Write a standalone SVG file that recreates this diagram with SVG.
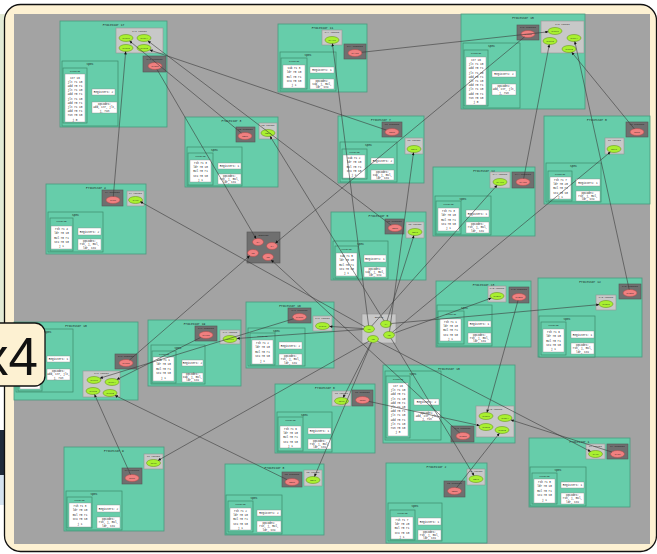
<svg xmlns="http://www.w3.org/2000/svg" width="657" height="554" viewBox="0 0 657 554">
<style>
.proc{fill:#66cdaa;stroke:#4a9a7e;stroke-width:0.8}
.spec{fill:#66cdaa;stroke:#3d8a6c;stroke-width:0.7}
.wb{fill:#fff;stroke:#8a8a8a;stroke-width:0.4}
.inb{fill:#c8c8c8;stroke:#959595;stroke-width:0.6}
.outb{fill:#6f6f6f;stroke:#555;stroke-width:0.6}
.gi{fill:#a8f030;stroke:#5c8a10;stroke-width:0.5}
.ro{fill:#f08080;stroke:#b04848;stroke-width:0.5}
text{font-family:"Liberation Mono","DejaVu Sans Mono",monospace;text-anchor:middle;fill:#1a1a1a}
.t{font-size:3px}
.s{font-size:2.4px}
.k{font-size:2.7px}
.e line{stroke:#3a3a3a;stroke-width:0.6;fill:none;marker-end:url(#ah)}
</style>
<defs>
<marker id="ah" viewBox="0 0 10 10" refX="10" refY="5" markerWidth="3.4" markerHeight="2.8" markerUnits="userSpaceOnUse" orient="auto"><path d="M0,0L10,5L0,10z" fill="#111"/></marker>
</defs>
<rect width="657" height="554" fill="#fff"/>
<rect x="0" y="14" width="6" height="310" fill="#e3ebd6"/>
<rect x="0" y="430" width="6" height="45" fill="#1f2b3b"/>
<rect x="0" y="475" width="6" height="30" fill="#d5e3f0"/>
<rect x="4.5" y="4.5" width="652" height="547" rx="16" fill="#fdf1d2" stroke="#111" stroke-width="1.3"/>
<rect x="14" y="14" width="636" height="530" fill="#a3a3a3"/>

<g id="p17">
<rect class="proc" x="60" y="21" width="107" height="106"/><text class="t" x="113.5" y="25.5">Processor 17</text>
<rect class="inb" x="116" y="28" width="47" height="25"/><text class="s" x="139.5" y="31.5">p17 inputs</text>
<ellipse class="gi" cx="126" cy="38" rx="7" ry="3.5"/><text class="s" x="126" y="38.9">p17i0</text>
<ellipse class="gi" cx="144" cy="38" rx="7" ry="3.5"/><text class="s" x="144" y="38.9">p17i1</text>
<ellipse class="gi" cx="126" cy="48" rx="7" ry="3.5"/><text class="s" x="126" y="48.9">p17i2</text>
<ellipse class="gi" cx="144" cy="48" rx="7" ry="3.5"/><text class="s" x="144" y="48.9">p17i3</text>
<rect class="outb" x="143" y="56" width="23" height="16"/><text class="s" x="154.5" y="59.5">p17 outputs</text>
<ellipse class="ro" cx="155" cy="66" rx="7" ry="3.5"/><text class="s" x="155" y="66.9">p17o0</text>
<rect class="spec" x="62" y="61" width="56" height="65"/><text class="t" x="90" y="64.5">Spec</text>
<rect class="spec" x="63" y="68" width="24" height="55"/><text class="s" x="75" y="71.5">Program</text>
<rect class="wb" x="65" y="74" width="20" height="48"/>
<text class="k" x="75" y="78.5"><tspan x="75">ctr 16</tspan><tspan x="75" dy="4.2">jlt r1 10</tspan><tspan x="75" dy="4.2">add r0 r1</tspan><tspan x="75" dy="4.2">jlt r1 10</tspan><tspan x="75" dy="4.2">add r0 r1</tspan><tspan x="75" dy="4.2">jlt r1 10</tspan><tspan x="75" dy="4.2">add r0 r1</tspan><tspan x="75" dy="4.2">jlt r1 10</tspan><tspan x="75" dy="4.2">add r0 r1</tspan><tspan x="75" dy="4.2">run r0 s0</tspan><tspan x="75" dy="4.2">j 0</tspan></text>
<rect class="wb" x="92" y="89" width="23" height="6"/><text class="k" x="103.5" y="93">Registers: 2</text>
<rect class="wb" x="92" y="102" width="25" height="11"/><text class="k" x="104.5" y="105"><tspan x="104.5">Opcodes:</tspan><tspan x="104.5" dy="3.3">add, ctr, jlt,</tspan><tspan x="104.5" dy="3.3">j, run</tspan></text>
</g>

<g id="p11">
<rect class="proc" x="278" y="24" width="89" height="68"/><text class="t" x="322.5" y="28.5">Processor 11</text>
<rect class="inb" x="322" y="30" width="20" height="15"/><text class="s" x="332" y="33.3">p11 inputs</text>
<ellipse class="gi" cx="332" cy="40" rx="7" ry="3.5"/><text class="s" x="332" y="40.9">p11i0</text>
<rect class="outb" x="344" y="44" width="22" height="15"/><text class="s" x="355" y="47.3">p11 outputs</text>
<ellipse class="ro" cx="355" cy="53" rx="7" ry="3.5"/><text class="s" x="355" y="53.9">p11o0</text>
<rect class="spec" x="280" y="52" width="56" height="39"/><text class="t" x="308" y="55.5">Spec</text>
<rect class="spec" x="281" y="58" width="26" height="31"/><text class="s" x="294" y="61.5">Program</text>
<rect class="wb" x="283" y="65" width="22" height="23"/>
<text class="k" x="294" y="69"><tspan x="294">sub r1 3</tspan><tspan x="294" dy="4.3">ldr r0 10</tspan><tspan x="294" dy="4.3">mul r0 r1</tspan><tspan x="294" dy="4.3">stu r0 s0</tspan><tspan x="294" dy="4.3">j 1</tspan></text>
<rect class="wb" x="310" y="67" width="24" height="6"/><text class="k" x="322" y="71">Registers: 1</text>
<rect class="wb" x="310" y="79" width="24" height="10"/><text class="k" x="322" y="81.6"><tspan x="322">Opcodes:</tspan><tspan x="322" dy="3">sub, j, mul,</tspan><tspan x="322" dy="3">ldr, stu</tspan></text>
</g>

<g id="p15">
<rect class="proc" x="461" y="14" width="124" height="95"/><text class="t" x="523" y="18.5">Processor 15</text>
<rect class="outb" x="517" y="25" width="22" height="15"/><text class="s" x="528" y="28.3">p15 outputs</text>
<ellipse class="ro" cx="528" cy="34" rx="7" ry="3.5"/><text class="s" x="528" y="34.9">p15o0</text>
<rect class="inb" x="541" y="21" width="43" height="32"/><text class="s" x="562.5" y="24.5">p15 inputs</text>
<ellipse class="gi" cx="555" cy="31" rx="7" ry="3.5"/><text class="s" x="555" y="31.9">p15i0</text>
<ellipse class="gi" cx="574" cy="38" rx="7" ry="3.5"/><text class="s" x="574" y="38.9">p15i1</text>
<ellipse class="gi" cx="550" cy="41" rx="7" ry="3.5"/><text class="s" x="550" y="41.9">p15i2</text>
<ellipse class="gi" cx="569" cy="49" rx="7" ry="3.5"/><text class="s" x="569" y="49.9">p15i3</text>
<rect class="spec" x="463" y="43" width="57" height="65"/><text class="t" x="491.5" y="46.5">Spec</text>
<rect class="spec" x="464" y="50" width="24" height="56"/><text class="s" x="476" y="53.5">Program</text>
<rect class="wb" x="466" y="57" width="20" height="48"/>
<text class="k" x="476" y="61"><tspan x="476">ctr 16</tspan><tspan x="476" dy="4.2">jlt r1 10</tspan><tspan x="476" dy="4.2">add r0 r1</tspan><tspan x="476" dy="4.2">jlt r1 10</tspan><tspan x="476" dy="4.2">add r0 r1</tspan><tspan x="476" dy="4.2">jlt r1 10</tspan><tspan x="476" dy="4.2">add r0 r1</tspan><tspan x="476" dy="4.2">jlt r1 10</tspan><tspan x="476" dy="4.2">add r0 r1</tspan><tspan x="476" dy="4.2">run r0 s0</tspan><tspan x="476" dy="4.2">j 0</tspan></text>
<rect class="wb" x="492" y="71" width="24" height="6"/><text class="k" x="504" y="75">Registers: 2</text>
<rect class="wb" x="492" y="84" width="24" height="11"/><text class="k" x="504" y="87"><tspan x="504">Opcodes:</tspan><tspan x="504" dy="3.3">add, ctr, jlt,</tspan><tspan x="504" dy="3.3">j, run</tspan></text>
</g>

<g id="p0">
<rect class="proc" x="544" y="116" width="106" height="88"/><text class="t" x="597" y="120.5">Processor 0</text>
<rect class="outb" x="626" y="122" width="22" height="15"/><text class="s" x="637" y="125.3">p0 outputs</text>
<ellipse class="ro" cx="637" cy="132" rx="7" ry="3.5"/><text class="s" x="637" y="132.9">p0o0</text>
<rect class="inb" x="605" y="138" width="19" height="16"/><text class="s" x="614.5" y="141.3">p0 inputs</text>
<ellipse class="gi" cx="614" cy="149" rx="7" ry="3.5"/><text class="s" x="614" y="149.9">p0i0</text>
<rect class="spec" x="546" y="163" width="55" height="39"/><text class="t" x="573.5" y="166.5">Spec</text>
<rect class="spec" x="548" y="171" width="24" height="30"/><text class="s" x="560" y="174.5">Program</text>
<rect class="wb" x="550" y="177" width="21" height="22"/>
<text class="k" x="560.5" y="181"><tspan x="560.5">rsh r1 7</tspan><tspan x="560.5" dy="4.2">ldr r0 20</tspan><tspan x="560.5" dy="4.2">mul r0 r1</tspan><tspan x="560.5" dy="4.2">stu r0 s0</tspan><tspan x="560.5" dy="4.2">j 1</tspan></text>
<rect class="wb" x="576" y="179" width="24" height="7"/><text class="k" x="588" y="183.5">Registers: 1</text>
<rect class="wb" x="576" y="191" width="24" height="10"/><text class="k" x="588" y="193.6"><tspan x="588">Opcodes:</tspan><tspan x="588" dy="3">rsh, j, mul,</tspan><tspan x="588" dy="3">ldr, stu</tspan></text>
</g>

<g id="p14">
<rect class="proc" x="433" y="167" width="102" height="69"/><text class="t" x="484" y="171.5">Processor 14</text>
<rect class="inb" x="490" y="172" width="20" height="16"/><text class="s" x="500" y="175.3">p14 inputs</text>
<ellipse class="gi" cx="500" cy="182" rx="7" ry="3.5"/><text class="s" x="500" y="182.9">p14i0</text>
<rect class="outb" x="512" y="172" width="22" height="16"/><text class="s" x="523" y="175.3">p14 outputs</text>
<ellipse class="ro" cx="523" cy="182" rx="7" ry="3.5"/><text class="s" x="523" y="182.9">p14o0</text>
<rect class="spec" x="435" y="196" width="56" height="39"/><text class="t" x="463" y="199.5">Spec</text>
<rect class="spec" x="436" y="201" width="25" height="33"/><text class="s" x="448.5" y="204.5">Program</text>
<rect class="wb" x="438" y="208" width="21" height="23"/>
<text class="k" x="448.5" y="212"><tspan x="448.5">rsh r1 3</tspan><tspan x="448.5" dy="4.3">ldr r0 10</tspan><tspan x="448.5" dy="4.3">mul r0 r1</tspan><tspan x="448.5" dy="4.3">stu r0 s0</tspan><tspan x="448.5" dy="4.3">j 1</tspan></text>
<rect class="wb" x="466" y="210" width="23" height="7"/><text class="k" x="477.5" y="214.5">Registers: 1</text>
<rect class="wb" x="466" y="222" width="23" height="11"/><text class="k" x="477.5" y="225"><tspan x="477.5">Opcodes:</tspan><tspan x="477.5" dy="3.3">rsh, j, mul,</tspan><tspan x="477.5" dy="3.3">ldr, stu</tspan></text>
</g>

<g id="p7">
<rect class="proc" x="338" y="116" width="86" height="67"/><text class="t" x="381" y="120.5">Processor 7</text>
<rect class="outb" x="382" y="122" width="20" height="15"/><text class="s" x="392" y="125.3">p7 outputs</text>
<ellipse class="ro" cx="392" cy="132" rx="7" ry="3.5"/><text class="s" x="392" y="132.9">p7o0</text>
<rect class="inb" x="405" y="138" width="18" height="16"/><text class="s" x="414" y="141.3">p7 inputs</text>
<ellipse class="gi" cx="414" cy="149" rx="7" ry="3.5"/><text class="s" x="414" y="149.9">p7i0</text>
<rect class="spec" x="340" y="142" width="57" height="40"/><text class="t" x="368.5" y="145.5">Spec</text>
<rect class="spec" x="342" y="149" width="25" height="30"/><text class="s" x="354.5" y="152.5">Program</text>
<rect class="wb" x="343" y="155" width="22" height="23"/>
<text class="k" x="354" y="159"><tspan x="354">sub r1 2</tspan><tspan x="354" dy="4.3">ldr r0 10</tspan><tspan x="354" dy="4.3">mul r0 r1</tspan><tspan x="354" dy="4.3">stu r0 s0</tspan><tspan x="354" dy="4.3">j 1</tspan></text>
<rect class="wb" x="371" y="158" width="23" height="6"/><text class="k" x="382.5" y="162">Registers: 2</text>
<rect class="wb" x="371" y="170" width="23" height="10"/><text class="k" x="382.5" y="172.6"><tspan x="382.5">Opcodes:</tspan><tspan x="382.5" dy="3">sub, j, mul,</tspan><tspan x="382.5" dy="3">ldr, stu</tspan></text>
</g>

<g id="p3">
<rect class="proc" x="185" y="117" width="93" height="70"/><text class="t" x="231.5" y="121.5">Processor 3</text>
<rect class="outb" x="236" y="127" width="19" height="15"/><text class="s" x="245.5" y="130.3">p3 outputs</text>
<ellipse class="ro" cx="245" cy="136" rx="7" ry="3.5"/><text class="s" x="245" y="136.9">p3o0</text>
<rect class="inb" x="259" y="123" width="18" height="16"/><text class="s" x="268" y="126.3">p3 inputs</text>
<ellipse class="gi" cx="268" cy="133" rx="7" ry="3.5"/><text class="s" x="268" y="133.9">p3i0</text>
<rect class="spec" x="187" y="147" width="55" height="39"/><text class="t" x="214.5" y="150.5">Spec</text>
<rect class="spec" x="188" y="153" width="25" height="32"/><text class="s" x="200.5" y="156.5">Program</text>
<rect class="wb" x="190" y="160" width="21" height="22"/>
<text class="k" x="200.5" y="164"><tspan x="200.5">rsh r1 3</tspan><tspan x="200.5" dy="4.2">ldr r0 10</tspan><tspan x="200.5" dy="4.2">mul r0 r1</tspan><tspan x="200.5" dy="4.2">stu r0 s0</tspan><tspan x="200.5" dy="4.2">j 1</tspan></text>
<rect class="wb" x="218" y="163" width="23" height="6"/><text class="k" x="229.5" y="167">Registers: 1</text>
<rect class="wb" x="218" y="174" width="23" height="10"/><text class="k" x="229.5" y="176.6"><tspan x="229.5">Opcodes:</tspan><tspan x="229.5" dy="3">rsh, j, mul,</tspan><tspan x="229.5" dy="3">ldr, stu</tspan></text>
</g>

<g id="p4">
<rect class="proc" x="46" y="184" width="100" height="70"/><text class="t" x="96" y="188.5">Processor 4</text>
<rect class="outb" x="102" y="190" width="21" height="16"/><text class="s" x="112.5" y="193.3">p4 outputs</text>
<ellipse class="ro" cx="113" cy="200" rx="7" ry="3.5"/><text class="s" x="113" y="200.9">p4o0</text>
<rect class="inb" x="127" y="191" width="17" height="15"/><text class="s" x="135.5" y="194.3">p4 inputs</text>
<ellipse class="gi" cx="135.5" cy="200" rx="7" ry="3.5"/><text class="s" x="135.5" y="200.9">p4i0</text>
<rect class="spec" x="48" y="212" width="55" height="40"/><text class="t" x="75.5" y="215.5">Spec</text>
<rect class="spec" x="50" y="218" width="23" height="33"/><text class="s" x="61.5" y="221.5">Program</text>
<rect class="wb" x="51" y="226" width="21" height="23"/>
<text class="k" x="61.5" y="230"><tspan x="61.5">rsh r1 4</tspan><tspan x="61.5" dy="4.3">ldr r0 10</tspan><tspan x="61.5" dy="4.3">mul r0 r1</tspan><tspan x="61.5" dy="4.3">stu r0 s0</tspan><tspan x="61.5" dy="4.3">j 1</tspan></text>
<rect class="wb" x="78" y="228" width="23" height="7"/><text class="k" x="89.5" y="232.5">Registers: 2</text>
<rect class="wb" x="78" y="239" width="23" height="11"/><text class="k" x="89.5" y="242"><tspan x="89.5">Opcodes:</tspan><tspan x="89.5" dy="3.3">rsh, j, mul,</tspan><tspan x="89.5" dy="3.3">ldr, stu</tspan></text>
</g>

<g id="outputs">
<rect class="outb" x="247" y="232" width="33" height="31"/><text class="s" x="263.5" y="235.8">Outputs</text>
<ellipse class="ro" cx="258" cy="242" rx="5.5" ry="3.5"/><text class="s" x="258" y="242.9">o1</text>
<ellipse class="ro" cx="272" cy="246" rx="5.5" ry="3.5"/><text class="s" x="272" y="246.9">o4</text>
<ellipse class="ro" cx="253" cy="253" rx="5.5" ry="3.5"/><text class="s" x="253" y="253.9">o2</text>
<ellipse class="ro" cx="268" cy="257" rx="5.5" ry="3.5"/><text class="s" x="268" y="257.9">o3</text>
</g>

<g id="p5">
<rect class="proc" x="331" y="212" width="95" height="68"/><text class="t" x="378.5" y="216.5">Processor 5</text>
<rect class="outb" x="385" y="219" width="19" height="15"/><text class="s" x="394.5" y="222.3">p5 outputs</text>
<ellipse class="ro" cx="395" cy="228" rx="7" ry="3.5"/><text class="s" x="395" y="228.9">p5o0</text>
<rect class="inb" x="406" y="222" width="18" height="16"/><text class="s" x="415" y="225.3">p5 inputs</text>
<ellipse class="gi" cx="415" cy="232" rx="7" ry="3.5"/><text class="s" x="415" y="232.9">p5i0</text>
<rect class="spec" x="333" y="241" width="55" height="38"/><text class="t" x="360.5" y="244.5">Spec</text>
<rect class="spec" x="335" y="246" width="23" height="32"/><text class="s" x="346.5" y="249.5">Program</text>
<rect class="wb" x="336" y="253" width="21" height="23"/>
<text class="k" x="346.5" y="257"><tspan x="346.5">sub r1 5</tspan><tspan x="346.5" dy="4.3">ldr r0 10</tspan><tspan x="346.5" dy="4.3">mul r0 r1</tspan><tspan x="346.5" dy="4.3">stu r0 s0</tspan><tspan x="346.5" dy="4.3">j 1</tspan></text>
<rect class="wb" x="364" y="255" width="22" height="7"/><text class="k" x="375" y="259.5">Registers: 1</text>
<rect class="wb" x="364" y="267" width="22" height="10"/><text class="k" x="375" y="269.6"><tspan x="375">Opcodes:</tspan><tspan x="375" dy="3">sub, j, mul,</tspan><tspan x="375" dy="3">ldr, stu</tspan></text>
</g>

<g id="p13">
<rect class="proc" x="436" y="281" width="95" height="66"/><text class="t" x="483.5" y="285.5">Processor 13</text>
<rect class="inb" x="488" y="286" width="18" height="16"/><text class="s" x="497" y="289.3">p13 inputs</text>
<ellipse class="gi" cx="497" cy="296" rx="7" ry="3.5"/><text class="s" x="497" y="296.9">p13i0</text>
<rect class="outb" x="509" y="287" width="20" height="16"/><text class="s" x="519" y="290.3">p13 outputs</text>
<ellipse class="ro" cx="519" cy="297" rx="7" ry="3.5"/><text class="s" x="519" y="297.9">p13o0</text>
<rect class="spec" x="437" y="305" width="55" height="41"/><text class="t" x="464.5" y="308.5">Spec</text>
<rect class="spec" x="438" y="311" width="26" height="33"/><text class="s" x="451" y="314.5">Program</text>
<rect class="wb" x="440" y="319" width="21" height="22"/>
<text class="k" x="450.5" y="323"><tspan x="450.5">rsh r1 1</tspan><tspan x="450.5" dy="4.2">ldr r0 10</tspan><tspan x="450.5" dy="4.2">mul r0 r1</tspan><tspan x="450.5" dy="4.2">stu r0 s0</tspan><tspan x="450.5" dy="4.2">j 1</tspan></text>
<rect class="wb" x="468" y="321" width="23" height="6"/><text class="k" x="479.5" y="325">Registers: 1</text>
<rect class="wb" x="468" y="333" width="23" height="10"/><text class="k" x="479.5" y="335.6"><tspan x="479.5">Opcodes:</tspan><tspan x="479.5" dy="3">rsh, j, mul,</tspan><tspan x="479.5" dy="3">ldr, stu</tspan></text>
</g>

<g id="p12">
<rect class="proc" x="538" y="278" width="104" height="79"/><text class="t" x="590" y="282.5">Processor 12</text>
<rect class="outb" x="619" y="284" width="22" height="15"/><text class="s" x="630" y="287.3">p12 outputs</text>
<ellipse class="ro" cx="630" cy="293" rx="7" ry="3.5"/><text class="s" x="630" y="293.9">p12o0</text>
<rect class="inb" x="596" y="295" width="20" height="15"/><text class="s" x="606" y="298.3">p12 inputs</text>
<ellipse class="gi" cx="606" cy="304" rx="7" ry="3.5"/><text class="s" x="606" y="304.9">p12i0</text>
<rect class="spec" x="539" y="316" width="56" height="41"/><text class="t" x="567" y="319.5">Spec</text>
<rect class="spec" x="541" y="322" width="25" height="33"/><text class="s" x="553.5" y="325.5">Program</text>
<rect class="wb" x="543" y="329" width="21" height="23"/>
<text class="k" x="553.5" y="333"><tspan x="553.5">rsh r1 6</tspan><tspan x="553.5" dy="4.3">ldr r0 10</tspan><tspan x="553.5" dy="4.3">mul r0 r1</tspan><tspan x="553.5" dy="4.3">stu r0 s0</tspan><tspan x="553.5" dy="4.3">j 1</tspan></text>
<rect class="wb" x="571" y="331" width="23" height="7"/><text class="k" x="582.5" y="335.5">Registers: 1</text>
<rect class="wb" x="571" y="343" width="23" height="11"/><text class="k" x="582.5" y="346"><tspan x="582.5">Opcodes:</tspan><tspan x="582.5" dy="3.3">rsh, j, mul,</tspan><tspan x="582.5" dy="3.3">ldr, stu</tspan></text>
</g>

<g id="p10">
<rect class="proc" x="14" y="322" width="124" height="78"/><text class="t" x="76" y="326.5">Processor 10</text>
<rect class="outb" x="115" y="354" width="22" height="15"/><text class="s" x="126" y="357.3">p10 outputs</text>
<ellipse class="ro" cx="126" cy="363" rx="7" ry="3.5"/><text class="s" x="126" y="363.9">p10o0</text>
<rect class="inb" x="83" y="371" width="37" height="26"/><text class="s" x="101.5" y="374.3">p10 inputs</text>
<ellipse class="gi" cx="94" cy="380" rx="7" ry="3.5"/><text class="s" x="94" y="380.9">p10i0</text>
<ellipse class="gi" cx="112" cy="382" rx="7" ry="3.5"/><text class="s" x="112" y="382.9">p10i1</text>
<ellipse class="gi" cx="93" cy="391" rx="7" ry="3.5"/><text class="s" x="93" y="391.9">p10i2</text>
<ellipse class="gi" cx="110" cy="393" rx="7" ry="3.5"/><text class="s" x="110" y="393.9">p10i3</text>
<rect class="spec" x="16" y="329" width="57" height="63"/><text class="t" x="48" y="332.5">Spec</text>
<rect class="spec" x="18" y="335" width="24" height="56"/>
<rect class="wb" x="20" y="342" width="20" height="47"/>
<rect class="wb" x="47" y="356" width="23" height="6"/><text class="k" x="58.5" y="360">Registers: 1</text>
<rect class="wb" x="47" y="369" width="23" height="11"/><text class="k" x="58.5" y="372"><tspan x="58.5">Opcodes:</tspan><tspan x="58.5" dy="3.3">add, ctr, jlt,</tspan><tspan x="58.5" dy="3.3">j, run</tspan></text>
</g>

<g id="p19">
<rect class="proc" x="148" y="320" width="93" height="66"/><text class="t" x="194.5" y="324.5">Processor 19</text>
<rect class="outb" x="195" y="326" width="22" height="15"/><text class="s" x="206" y="329.3">p19 outputs</text>
<ellipse class="ro" cx="206" cy="335" rx="7" ry="3.5"/><text class="s" x="206" y="335.9">p19o0</text>
<rect class="inb" x="220" y="330" width="20" height="14"/><text class="s" x="230" y="333.3">p19 inputs</text>
<ellipse class="gi" cx="230" cy="339" rx="7" ry="3.5"/><text class="s" x="230" y="339.9">p19i0</text>
<rect class="spec" x="151" y="345" width="54" height="39"/><text class="t" x="178" y="348.5">Spec</text>
<rect class="spec" x="152" y="351" width="24" height="32"/><text class="s" x="164" y="354.5">Program</text>
<rect class="wb" x="153" y="357" width="21" height="24"/>
<text class="k" x="163.5" y="361"><tspan x="163.5">sub r1 1</tspan><tspan x="163.5" dy="4.4">ldr r0 10</tspan><tspan x="163.5" dy="4.4">mul r0 r1</tspan><tspan x="163.5" dy="4.4">stu r0 s0</tspan><tspan x="163.5" dy="4.4">j 1</tspan></text>
<rect class="wb" x="182" y="360" width="21" height="6"/><text class="k" x="192.5" y="364">Registers: 2</text>
<rect class="wb" x="182" y="373" width="21" height="9"/><text class="k" x="192.5" y="375.4"><tspan x="192.5">Opcodes:</tspan><tspan x="192.5" dy="2.8">sub, j, mul,</tspan><tspan x="192.5" dy="2.8">ldr, stu</tspan></text>
</g>

<g id="p16">
<rect class="proc" x="246" y="302" width="88" height="66"/><text class="t" x="290" y="306.5">Processor 16</text>
<rect class="outb" x="288" y="308" width="23" height="15"/><text class="s" x="299.5" y="311.3">p16 outputs</text>
<ellipse class="ro" cx="299.5" cy="317" rx="7" ry="3.5"/><text class="s" x="299.5" y="317.9">p16o0</text>
<rect class="inb" x="313" y="316" width="19" height="15"/><text class="s" x="322.5" y="319.3">p16 inputs</text>
<ellipse class="gi" cx="322.5" cy="326" rx="7" ry="3.5"/><text class="s" x="322.5" y="326.9">p16i0</text>
<rect class="spec" x="248" y="328" width="57" height="38"/><text class="t" x="276.5" y="331.5">Spec</text>
<rect class="spec" x="250" y="333" width="25" height="32"/><text class="s" x="262.5" y="336.5">Program</text>
<rect class="wb" x="252" y="340" width="21" height="24"/>
<text class="k" x="262.5" y="344"><tspan x="262.5">rsh r1 2</tspan><tspan x="262.5" dy="4.4">ldr r0 10</tspan><tspan x="262.5" dy="4.4">mul r0 r1</tspan><tspan x="262.5" dy="4.4">stu r0 s0</tspan><tspan x="262.5" dy="4.4">j 1</tspan></text>
<rect class="wb" x="279" y="342" width="23" height="7"/><text class="k" x="290.5" y="346.5">Registers: 2</text>
<rect class="wb" x="279" y="354" width="23" height="11"/><text class="k" x="290.5" y="357"><tspan x="290.5">Opcodes:</tspan><tspan x="290.5" dy="3.3">rsh, j, mul,</tspan><tspan x="290.5" dy="3.3">ldr, stu</tspan></text>
</g>

<g id="inputs">
<rect class="inb" x="362" y="314" width="34" height="29"/><text class="s" x="379" y="317.6">Inputs</text>
<ellipse class="gi" cx="369" cy="329" rx="5.5" ry="3.5"/><text class="s" x="369" y="329.9">i0</text>
<ellipse class="gi" cx="386" cy="324" rx="5.5" ry="3.5"/><text class="s" x="386" y="324.9">i1</text>
<ellipse class="gi" cx="389" cy="335" rx="5.5" ry="3.5"/><text class="s" x="389" y="335.9">i2</text>
<ellipse class="gi" cx="373" cy="339" rx="5.5" ry="3.5"/><text class="s" x="373" y="339.9">i3</text>
</g>

<g id="p18">
<rect class="proc" x="383" y="365" width="132" height="78"/><text class="t" x="449" y="369.5">Processor 18</text>
<rect class="spec" x="385" y="371" width="56" height="69"/><text class="t" x="413" y="374.5">Spec</text>
<rect class="spec" x="386" y="376" width="24" height="62"/><text class="s" x="398" y="379.5">Program</text>
<rect class="wb" x="388" y="383" width="20" height="53"/>
<text class="k" x="398" y="387"><tspan x="398">ctr 16</tspan><tspan x="398" dy="4.2">jlt r1 10</tspan><tspan x="398" dy="4.2">add r0 r1</tspan><tspan x="398" dy="4.2">jlt r1 10</tspan><tspan x="398" dy="4.2">add r0 r1</tspan><tspan x="398" dy="4.2">jlt r1 10</tspan><tspan x="398" dy="4.2">add r0 r1</tspan><tspan x="398" dy="4.2">jlt r1 10</tspan><tspan x="398" dy="4.2">add r0 r1</tspan><tspan x="398" dy="4.2">jlt r1 10</tspan><tspan x="398" dy="4.2">run r0 s0</tspan><tspan x="398" dy="4.2">j 0</tspan></text>
<rect class="wb" x="414" y="399" width="25" height="6"/><text class="k" x="426.5" y="403">Registers: 2</text>
<rect class="wb" x="414" y="411" width="26" height="10"/><text class="k" x="427" y="413.6"><tspan x="427">Opcodes:</tspan><tspan x="427" dy="3">add, ctr, jlt,</tspan><tspan x="427" dy="3">j, run</tspan></text>
<rect class="inb" x="476" y="406" width="38" height="31"/><text class="s" x="495" y="409.5">p18 inputs</text>
<ellipse class="gi" cx="486" cy="416" rx="7" ry="3.5"/><text class="s" x="486" y="416.9">p18i0</text>
<ellipse class="gi" cx="505" cy="418" rx="7" ry="3.5"/><text class="s" x="505" y="418.9">p18i1</text>
<ellipse class="gi" cx="486" cy="427" rx="7" ry="3.5"/><text class="s" x="486" y="427.9">p18i2</text>
<ellipse class="gi" cx="502" cy="430" rx="7" ry="3.5"/><text class="s" x="502" y="430.9">p18i3</text>
<rect class="outb" x="451" y="426" width="23" height="16"/><text class="s" x="462.5" y="429.3">p18 outputs</text>
<ellipse class="ro" cx="463" cy="436" rx="7" ry="3.5"/><text class="s" x="463" y="436.9">p18o0</text>
</g>

<g id="p6">
<rect class="proc" x="275" y="384" width="100" height="69"/><text class="t" x="325" y="388.5">Processor 6</text>
<rect class="inb" x="332" y="391" width="19" height="15"/><text class="s" x="341.5" y="394.3">p6 inputs</text>
<ellipse class="gi" cx="341.5" cy="401" rx="7" ry="3.5"/><text class="s" x="341.5" y="401.9">p6i0</text>
<rect class="outb" x="352" y="390" width="21" height="16"/><text class="s" x="362.5" y="393.3">p6 outputs</text>
<ellipse class="ro" cx="362.5" cy="400" rx="7" ry="3.5"/><text class="s" x="362.5" y="400.9">p6o0</text>
<rect class="spec" x="277" y="412" width="55" height="40"/><text class="t" x="304.5" y="415.5">Spec</text>
<rect class="spec" x="278" y="417" width="25" height="34"/><text class="s" x="290.5" y="420.5">Program</text>
<rect class="wb" x="280" y="426" width="21" height="22"/>
<text class="k" x="290.5" y="430"><tspan x="290.5">rsh r1 6</tspan><tspan x="290.5" dy="4.2">ldr r0 10</tspan><tspan x="290.5" dy="4.2">mul r0 r1</tspan><tspan x="290.5" dy="4.2">stu r0 s0</tspan><tspan x="290.5" dy="4.2">j 1</tspan></text>
<rect class="wb" x="308" y="428" width="23" height="6"/><text class="k" x="319.5" y="432">Registers: 1</text>
<rect class="wb" x="308" y="439" width="23" height="10"/><text class="k" x="319.5" y="441.6"><tspan x="319.5">Opcodes:</tspan><tspan x="319.5" dy="3">rsh, j, mul,</tspan><tspan x="319.5" dy="3">ldr, stu</tspan></text>
</g>

<g id="p9">
<rect class="proc" x="64" y="447" width="100" height="84"/><text class="t" x="114" y="451.5">Processor 9</text>
<rect class="inb" x="144" y="454" width="19" height="15"/><text class="s" x="153.5" y="457.3">p9 inputs</text>
<ellipse class="gi" cx="153.5" cy="463" rx="7" ry="3.5"/><text class="s" x="153.5" y="463.9">p9i0</text>
<rect class="outb" x="122" y="468" width="20" height="16"/><text class="s" x="132" y="471.3">p9 outputs</text>
<ellipse class="ro" cx="132" cy="478" rx="7" ry="3.5"/><text class="s" x="132" y="478.9">p9o0</text>
<rect class="spec" x="66" y="491" width="56" height="39"/><text class="t" x="94" y="494.5">Spec</text>
<rect class="spec" x="67" y="497" width="25" height="31"/><text class="s" x="79.5" y="500.5">Program</text>
<rect class="wb" x="69" y="503" width="22" height="24"/>
<text class="k" x="80" y="507"><tspan x="80">rsh r1 3</tspan><tspan x="80" dy="4.4">ldr r0 10</tspan><tspan x="80" dy="4.4">mul r0 r1</tspan><tspan x="80" dy="4.4">stu r0 s0</tspan><tspan x="80" dy="4.4">j 1</tspan></text>
<rect class="wb" x="97" y="505" width="23" height="7"/><text class="k" x="108.5" y="509.5">Registers: 2</text>
<rect class="wb" x="97" y="517" width="23" height="11"/><text class="k" x="108.5" y="520"><tspan x="108.5">Opcodes:</tspan><tspan x="108.5" dy="3.3">rsh, j, mul,</tspan><tspan x="108.5" dy="3.3">ldr, stu</tspan></text>
</g>

<g id="p8">
<rect class="proc" x="225" y="464" width="99" height="71"/><text class="t" x="274.5" y="468.5">Processor 8</text>
<rect class="outb" x="282" y="472" width="20" height="15"/><text class="s" x="292" y="475.3">p8 outputs</text>
<ellipse class="ro" cx="292" cy="482" rx="7" ry="3.5"/><text class="s" x="292" y="482.9">p8o0</text>
<rect class="inb" x="304" y="470" width="18" height="16"/><text class="s" x="313" y="473.3">p8 inputs</text>
<ellipse class="gi" cx="313" cy="480" rx="7" ry="3.5"/><text class="s" x="313" y="480.9">p8i0</text>
<rect class="spec" x="226" y="495" width="56" height="39"/><text class="t" x="254" y="498.5">Spec</text>
<rect class="spec" x="228" y="501" width="25" height="31"/><text class="s" x="240.5" y="504.5">Program</text>
<rect class="wb" x="230" y="508" width="21" height="22"/>
<text class="k" x="240.5" y="512"><tspan x="240.5">rsh r1 2</tspan><tspan x="240.5" dy="4.2">ldr r0 10</tspan><tspan x="240.5" dy="4.2">mul r0 r1</tspan><tspan x="240.5" dy="4.2">stu r0 s0</tspan><tspan x="240.5" dy="4.2">j 1</tspan></text>
<rect class="wb" x="257" y="510" width="24" height="6"/><text class="k" x="269" y="514">Registers: 2</text>
<rect class="wb" x="257" y="521" width="24" height="11"/><text class="k" x="269" y="524"><tspan x="269">Opcodes:</tspan><tspan x="269" dy="3.3">rsh, j, mul,</tspan><tspan x="269" dy="3.3">ldr, stu</tspan></text>
</g>

<g id="p2">
<rect class="proc" x="386" y="463" width="101" height="80"/><text class="t" x="436.5" y="467.5">Processor 2</text>
<rect class="inb" x="467" y="469" width="18" height="16"/><text class="s" x="476" y="472.3">p2 inputs</text>
<ellipse class="gi" cx="476" cy="479" rx="7" ry="3.5"/><text class="s" x="476" y="479.9">p2i0</text>
<rect class="outb" x="444" y="481" width="21" height="16"/><text class="s" x="454.5" y="484.3">p2 outputs</text>
<ellipse class="ro" cx="454.5" cy="491" rx="7" ry="3.5"/><text class="s" x="454.5" y="491.9">p2o0</text>
<rect class="spec" x="388" y="503" width="54" height="38"/><text class="t" x="415" y="506.5">Spec</text>
<rect class="spec" x="390" y="510" width="25" height="30"/><text class="s" x="402.5" y="513.5">Program</text>
<rect class="wb" x="391" y="517" width="22" height="22"/>
<text class="k" x="402" y="521"><tspan x="402">rsh r1 7</tspan><tspan x="402" dy="4.2">ldr r0 20</tspan><tspan x="402" dy="4.2">mul r0 r1</tspan><tspan x="402" dy="4.2">stu r0 s0</tspan><tspan x="402" dy="4.2">j 1</tspan></text>
<rect class="wb" x="418" y="518" width="23" height="7"/><text class="k" x="429.5" y="522.5">Registers: 1</text>
<rect class="wb" x="418" y="530" width="23" height="10"/><text class="k" x="429.5" y="532.6"><tspan x="429.5">Opcodes:</tspan><tspan x="429.5" dy="3">rsh, j, mul,</tspan><tspan x="429.5" dy="3">ldr, stu</tspan></text>
</g>

<g id="p1">
<rect class="proc" x="529" y="438" width="101" height="69"/><text class="t" x="579.5" y="442.5">Processor 1</text>
<rect class="inb" x="586" y="444" width="19" height="15"/><text class="s" x="595.5" y="447.3">p1 inputs</text>
<ellipse class="gi" cx="595.5" cy="454" rx="7" ry="3.5"/><text class="s" x="595.5" y="454.9">p1i0</text>
<rect class="outb" x="607" y="444" width="21" height="15"/><text class="s" x="617.5" y="447.3">p1 outputs</text>
<ellipse class="ro" cx="617.5" cy="454" rx="7" ry="3.5"/><text class="s" x="617.5" y="454.9">p1o0</text>
<rect class="spec" x="530" y="467" width="56" height="39"/><text class="t" x="558" y="470.5">Spec</text>
<rect class="spec" x="532" y="473" width="25" height="31"/><text class="s" x="544.5" y="476.5">Program</text>
<rect class="wb" x="534" y="479" width="21" height="24"/>
<text class="k" x="544.5" y="483"><tspan x="544.5">rsh r1 8</tspan><tspan x="544.5" dy="4.4">ldr r0 10</tspan><tspan x="544.5" dy="4.4">mul r0 r1</tspan><tspan x="544.5" dy="4.4">stu r0 s0</tspan><tspan x="544.5" dy="4.4">j 1</tspan></text>
<rect class="wb" x="561" y="482" width="23" height="6"/><text class="k" x="572.5" y="486">Registers: 1</text>
<rect class="wb" x="561" y="493" width="23" height="11"/><text class="k" x="572.5" y="496"><tspan x="572.5">Opcodes:</tspan><tspan x="572.5" dy="3.3">rsh, j, mul,</tspan><tspan x="572.5" dy="3.3">ldr, stu</tspan></text>
</g>

<g id="connectors" class="e">
<line x1="113.3" y1="196.5" x2="125.7" y2="51.5"/>
<line x1="386.2" y1="130" x2="149.8" y2="50"/>
<line x1="157" y1="69.4" x2="256.1" y2="238.7"/>
<line x1="391.1" y1="225.1" x2="147.9" y2="40.9"/>
<line x1="361.8" y1="52.3" x2="548.2" y2="31.8"/>
<line x1="523.7" y1="178.5" x2="549.3" y2="44.5"/>
<line x1="634.3" y1="128.8" x2="571.7" y2="52.2"/>
<line x1="629.2" y1="289.5" x2="574.8" y2="41.5"/>
<line x1="524.4" y1="37" x2="275.4" y2="243.2"/>
<line x1="368.6" y1="325.5" x2="332.4" y2="43.5"/>
<line x1="384" y1="320.7" x2="270.1" y2="136.3"/>
<line x1="389.5" y1="331.5" x2="413.5" y2="152.5"/>
<line x1="387.1" y1="320.6" x2="413.9" y2="235.5"/>
<line x1="371.7" y1="326" x2="497.1" y2="185.2"/>
<line x1="392.4" y1="332.2" x2="610.4" y2="152"/>
<line x1="364.9" y1="326.7" x2="140.2" y2="201.6"/>
<line x1="393.8" y1="333.3" x2="491.3" y2="298.1"/>
<line x1="391.4" y1="323.5" x2="599.1" y2="304.6"/>
<line x1="391" y1="338.3" x2="474" y2="475.6"/>
<line x1="456.6" y1="487.7" x2="499.4" y2="433.3"/>
<line x1="612.1" y1="452.1" x2="510.9" y2="419.9"/>
<line x1="377.3" y1="341.2" x2="590.6" y2="451.5"/>
<line x1="368.9" y1="341.3" x2="158.1" y2="460.4"/>
<line x1="371.6" y1="342.4" x2="314.5" y2="476.6"/>
<line x1="371.3" y1="342.3" x2="343.2" y2="397.6"/>
<line x1="363.5" y1="329.4" x2="236.9" y2="338.5"/>
<line x1="363.5" y1="328.6" x2="329.5" y2="326.4"/>
<line x1="129.5" y1="360" x2="249.7" y2="255.8"/>
<line x1="130.5" y1="474.6" x2="94.5" y2="394.4"/>
<line x1="287" y1="479.6" x2="115" y2="395.4"/>
<line x1="293.5" y1="318.8" x2="100" y2="378.2"/>
<line x1="200.6" y1="337.5" x2="116.9" y2="379.5"/>
<line x1="518" y1="300.5" x2="487" y2="412.5"/>
<line x1="368.9" y1="401.4" x2="479.6" y2="425.6"/>
<line x1="459.6" y1="432.9" x2="271.1" y2="259.9"/>
<line x1="241.4" y1="133" x2="129.6" y2="41"/>
</g>

<g id="badge">
<rect x="-12" y="323" width="57" height="63" rx="10" fill="#fdf1d2" stroke="#111" stroke-width="1.3"/>
<text x="-18" y="375" style="font-family:'Liberation Sans',Arial,sans-serif;font-size:53px;text-anchor:start;fill:#111">x4</text>
</g>
</svg>
